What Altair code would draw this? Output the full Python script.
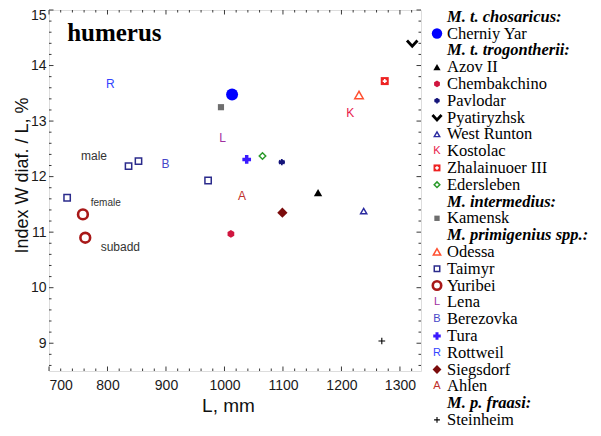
import altair as alt
import pandas as pd

# ---------------- data ----------------
point_site = ["Cherniy Yar", "Azov II", "Chembakchino", "Pavlodar", "Pyatiryzhsk",
              "West Runton", "Kostolac", "Zhalainuoer III", "Edersleben", "Kamensk",
              "Odessa", "Taimyr", "Taimyr", "Taimyr", "Taimyr", "Yuribei", "Yuribei",
              "Lena", "Berezovka", "Tura", "Rottweil", "Siegsdorf", "Ahlen", "Steinheim"]
point_L = [1013, 1160, 1011, 1098, 1321,
           1238, 1215, 1274, 1065, 994,
           1230, 731, 836, 853, 972, 758, 762,
           997, 899, 1038, 805, 1099, 1030, 1269]
point_W = [13.48, 11.71, 10.97, 12.26, 14.40,
           11.38, 13.14, 13.72, 12.37, 13.25,
           13.47, 11.62, 12.19, 12.28, 11.93, 11.32, 10.90,
           12.70, 12.22, 12.31, 13.66, 11.35, 11.65, 9.04]

ann_text = ["male", "female", "subadd"]
ann_L = [777, 797, 822]
ann_W = [12.37, 11.53, 10.74]

panel_title = "humerus"
panel_title_L = 731
panel_title_W = 14.58

legend_label = ["M. t. chosaricus:", "Cherniy Yar", "M. t. trogontherii:", "Azov II",
                "Chembakchino", "Pavlodar", "Pyatiryzhsk", "West Runton", "Kostolac",
                "Zhalainuoer III", "Edersleben", "M. intermedius:", "Kamensk",
                "M. primigenius spp.:", "Odessa", "Taimyr", "Yuribei", "Lena", "Berezovka",
                "Tura", "Rottweil", "Siegsdorf", "Ahlen", "M. p. fraasi:", "Steinheim"]
legend_header = [True, False, True, False, False, False, False, False, False, False,
                 False, True, False, True, False, False, False, False, False, False,
                 False, False, False, True, False]

x_major = [700, 800, 900, 1000, 1100, 1200, 1300]
y_major = [9, 10, 11, 12, 13, 14, 15]
x_minor = [v for v in range(700, 1337, 20) if v % 100 != 0]
y_minor = [round(8.6 + 0.2 * i, 1) for i in range(33)
           if abs((8.6 + 0.2 * i) - round(8.6 + 0.2 * i)) > 1e-6]

# ---------------- styles ----------------
HEX = "M0,-1L0.866,-0.5L0.866,0.5L0,1L-0.866,0.5L-0.866,-0.5Z"
AST = "M0,-1L0,1M-0.87,-0.5L0.87,0.5M-0.87,0.5L0.87,-0.5M-1,0L1,0"
VEE = "M-1,-0.55L0,0.55L1,-0.55"
PLUS = "M-1,0L1,0M0,-1L0,1"

styles = {
    "Cherniy Yar": dict(kind="point", shape="circle", size=144, filled=True, color="#0000ff"),
    "Azov II": dict(kind="point", shape="triangle-up", size=70, filled=True, color="#000000"),
    "Chembakchino": dict(kind="point", shape=HEX, size=60, filled=True, color="#d0163f"),
    "Pavlodar": dict(kind="point", shape=AST, size=40, filled=False, color="#14147a", sw=1.8),
    "Pyatiryzhsk": dict(kind="point", shape=VEE, size=110, filled=False, color="#000000", sw=2.8),
    "West Runton": dict(kind="point", shape="triangle-up", size=40, filled=False, color="#2a2aa0", sw=1.4),
    "Kostolac": dict(kind="text", char="K", fs=12, color="#e8194a"),
    "Zhalainuoer III": dict(kind="point", shape="square", size=64, filled=True, color="#ee2222",
                            overlay=dict(shape=PLUS, size=16, color="#ffffff", sw=1.6)),
    "Edersleben": dict(kind="point", shape="diamond", size=42, filled=False, color="#2a9a2a", sw=1.5),
    "Kamensk": dict(kind="point", shape="square", size=38, filled=True, color="#6e6e6e"),
    "Odessa": dict(kind="point", shape="triangle-up", size=72, filled=False, color="#ff5030", sw=1.5),
    "Taimyr": dict(kind="point", shape="square", size=40, filled=False, color="#2b2b8c", sw=1.5),
    "Yuribei": dict(kind="point", shape="circle", size=95, filled=False, color="#a81818", sw=2.6),
    "Lena": dict(kind="text", char="L", fs=12, color="#a0309f"),
    "Berezovka": dict(kind="text", char="B", fs=12, color="#4646c8"),
    "Tura": dict(kind="point", shape="cross", size=75, filled=True, color="#3a1aff"),
    "Rottweil": dict(kind="text", char="R", fs=12, color="#3344ff"),
    "Siegsdorf": dict(kind="point", shape="diamond", size=105, filled=True, color="#7b0c0c"),
    "Ahlen": dict(kind="text", char="A", fs=12, color="#c0302a"),
    "Steinheim": dict(kind="point", shape=PLUS, size=45, filled=False, color="#000000", sw=1.1),
}

W_PLOT, H_PLOT = 372, 361
FRAME = "#3a3a3a"
SANS = "Liberation Sans"
SERIF = "Liberation Serif"

xs = alt.Scale(domain=[700, 1336], nice=False, zero=False)
ys = alt.Scale(domain=[8.5, 15], nice=False, zero=False)

X_AX = alt.Axis(values=x_major, format="d", title="L, mm", ticks=False, domain=False, grid=False,
                labelFont=SANS, labelFontSize=14, labelColor="#1a1a1a", labelPadding=7,
                titleFont=SANS, titleFontSize=19, titleFontWeight="normal", titleColor="#111111",
                titleX=179, titleY=34, titleBaseline="middle")
Y_AX = alt.Axis(values=y_major, format="d", title="Index W diaf. / L, %", ticks=False, domain=False,
                grid=False, labelFont=SANS, labelFontSize=14, labelColor="#1a1a1a", labelPadding=3,
                labelOffset={"condition": {"test": "datum.value == 15", "value": 5.5}, "value": 0},
                titleFont=SANS, titleFontSize=18, titleFontWeight="normal", titleColor="#111111",
                titleX=-27, titleY=165, titleBaseline="middle")

X = alt.X("L:Q", scale=xs, axis=X_AX)
Y = alt.Y("W:Q", scale=ys, axis=Y_AX)


def sym_layer(df, st, x, y, k=1.0):
    if st["kind"] == "text":
        return [alt.Chart(df).mark_text(text=st["char"], fontSize=st["fs"] * (0.92 if k < 1 else 1),
                                        color=st["color"], font=SANS, align="center",
                                        baseline="middle", clip=False).encode(x=x, y=y)]
    layers = [alt.Chart(df).mark_point(shape=st["shape"], size=st["size"] * k, filled=st["filled"],
                                       color=st["color"], strokeWidth=st.get("sw", 1), opacity=1,
                                       clip=False).encode(x=x, y=y)]
    if "overlay" in st:
        ov = st["overlay"]
        layers.append(alt.Chart(df).mark_point(shape=ov["shape"], size=ov["size"] * k, filled=False,
                                               color=ov["color"], strokeWidth=ov["sw"], opacity=1,
                                               clip=False).encode(x=x, y=y))
    return layers


# ---------------- plot layers ----------------
pts = pd.DataFrame({"site": point_site, "L": point_L, "W": point_W})
plot_layers = []


def tick_layers(vals, length):
    d = pd.DataFrame({"L": vals})
    return [
        alt.Chart(d).mark_rule(color=FRAME, strokeWidth=1).encode(
            x=X, y=alt.value(H_PLOT), y2=alt.value(H_PLOT - length)),
        alt.Chart(d).mark_rule(color=FRAME, strokeWidth=1).encode(
            x=X, y=alt.value(0), y2=alt.value(length)),
    ]


def ytick_layers(vals, length):
    d = pd.DataFrame({"W": vals})
    return [
        alt.Chart(d).mark_rule(color=FRAME, strokeWidth=1).encode(
            y=Y, x=alt.value(0), x2=alt.value(length)),
        alt.Chart(d).mark_rule(color=FRAME, strokeWidth=1).encode(
            y=Y, x=alt.value(W_PLOT), x2=alt.value(W_PLOT - length)),
    ]


plot_layers += tick_layers(x_major, 4.5) + tick_layers(x_minor, 2.5)
plot_layers += ytick_layers(y_major, 4.5) + ytick_layers(y_minor, 2.5)

for site in dict.fromkeys(point_site):
    plot_layers += sym_layer(pts[pts.site == site], styles[site], X, Y)

ann = pd.DataFrame({"t": ann_text, "L": ann_L, "W": ann_W})
ann_sizes = {"male": 12, "female": 10, "subadd": 12}
for t in ann_text:
    plot_layers.append(alt.Chart(ann[ann.t == t]).mark_text(
        font=SANS, fontSize=ann_sizes[t], color="#333333", align="center", baseline="middle"
    ).encode(x=X, y=Y, text="t:N"))

ttl = pd.DataFrame({"t": [panel_title], "L": [panel_title_L], "W": [panel_title_W]})
plot_layers.append(alt.Chart(ttl).mark_text(
    font=SERIF, fontSize=25, fontWeight="bold", color="#000000", align="left", baseline="middle"
).encode(x=X, y=Y, text="t:N"))

plot = alt.layer(*plot_layers)

# ---------------- legend (drawn beside the plot) ----------------
step = 16.8
d0 = -6.7 / step
d1 = d0 + H_PLOT / step
ls = alt.Scale(domain=[d0, d1], reverse=True, nice=False, zero=False)
LY = alt.Y("row:Q", scale=ls, axis=None)
SYM_X = alt.value(388)
TXT_X = alt.value(398)

leg = pd.DataFrame({"label": legend_label, "header": legend_header,
                    "row": list(range(len(legend_label)))})
leg_layers = []
leg_layers.append(alt.Chart(leg[~leg.header]).mark_text(
    font=SERIF, fontSize=16.5, color="#000000", align="left", baseline="middle", clip=False
).encode(x=TXT_X, y=LY, text="label:N"))
leg_layers.append(alt.Chart(leg[leg.header]).mark_text(
    font=SERIF, fontSize=16.5, fontWeight="bold", fontStyle="italic", color="#000000",
    align="left", baseline="middle", clip=False
).encode(x=TXT_X, y=LY, text="label:N"))
for _, r in leg[~leg.header].iterrows():
    leg_layers += sym_layer(leg[leg.label == r.label], styles[r.label], SYM_X, LY, k=0.75)

legend = alt.layer(*leg_layers)

# total SVG: 41 + 372 + 172 = 585 wide, 2 + 361 + 57 = 420 tall (fits 601x436 with 8px margins)
chart = alt.layer(plot, legend).resolve_scale(y="independent").properties(
    width=W_PLOT, height=H_PLOT,
    autosize=alt.AutoSizeParams(type="none"),
    padding={"left": 41, "top": 2, "right": 172, "bottom": 57},
).configure_view(stroke=FRAME, strokeWidth=1).configure(background="white")

chart.save("out.html", embed_options={"renderer": "svg", "actions": False})
